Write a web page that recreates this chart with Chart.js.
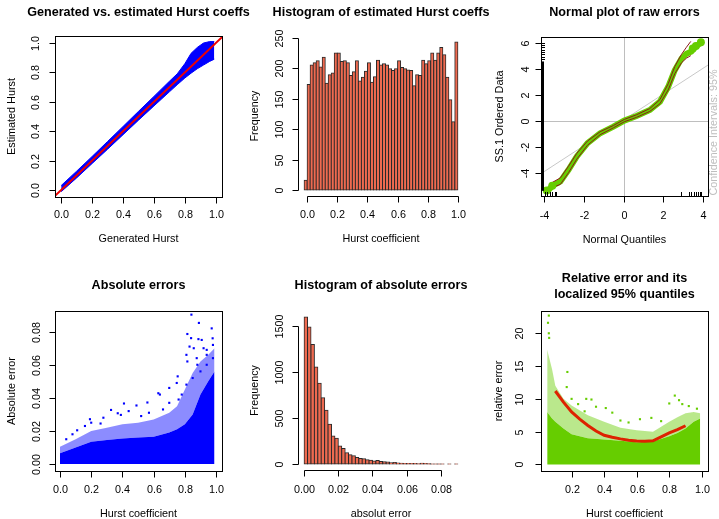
<!DOCTYPE html>
<html>
<head>
<meta charset="utf-8">
<script src="https://cdn.jsdelivr.net/npm/chart.js@4.4.0/dist/chart.umd.min.js"></script>
<style>
    body { margin: 0; background: #fff; }
    #wrap { position: relative; width: 719px; height: 519px; }
    #wrap canvas { position: absolute; left: 0; top: 0; }
</style>
</head>
<body>
<div id="wrap">
    <canvas id="c1" width="719" height="519"></canvas>
    <canvas id="c2" width="719" height="519"></canvas>
    <canvas id="c3" width="719" height="519"></canvas>
    <canvas id="c4" width="719" height="519"></canvas>
    <canvas id="c5" width="719" height="519"></canvas>
    <canvas id="c6" width="719" height="519"></canvas>
</div>
<script>
// ---- panel 1: generated vs estimated (cloud shown as its envelope)
var hGen = [0, 0.1, 0.2, 0.3, 0.4, 0.5, 0.6, 0.7, 0.75, 0.8, 0.84, 0.88, 0.92, 0.96, 0.99];
var estHigh = [0.03, 0.128, 0.228, 0.33, 0.432, 0.535, 0.637, 0.74, 0.79, 0.86, 0.93, 0.97, 1.0, 1.01, 1.01];
var estLow = [-0.012, 0.082, 0.18, 0.277, 0.376, 0.475, 0.572, 0.668, 0.716, 0.762, 0.795, 0.825, 0.85, 0.875, 0.89];
var diagX = [-0.1, 1.1];
var diagY = [-0.1, 1.1];

// ---- panel 2: histogram of estimated Hurst coeffs
var hurstMids = [-0.01, 0.01, 0.03, 0.05, 0.07, 0.09, 0.11, 0.13, 0.15, 0.17, 0.19, 0.21, 0.23, 0.25, 0.27, 0.29, 0.31,
    0.33, 0.35, 0.37, 0.39, 0.41, 0.43, 0.45, 0.47, 0.49, 0.51, 0.53, 0.55, 0.57, 0.59, 0.61, 0.63, 0.65, 0.67, 0.69,
    0.71, 0.73, 0.75, 0.77, 0.79, 0.81, 0.83, 0.85, 0.87, 0.89, 0.91, 0.93, 0.95, 0.97, 0.99];
var hurstCounts = [16, 173, 205, 209, 212, 202, 218, 175, 189, 192, 225, 225, 211, 212, 209, 188, 194, 212, 179, 185,
    195, 209, 177, 186, 213, 205, 207, 205, 199, 196, 199, 212, 201, 199, 197, 196, 171, 189, 188, 213, 207, 212,
    225, 213, 225, 234, 222, 185, 148, 112, 243];

// ---- panel 3: normal plot of raw errors
var qqX = [-3.81, -3.58, -3.19, -2.78, -2.36, -1.82, -1.18, -0.51, 0.04, 0.66, 1.33, 1.84, 2.26, 2.59, 2.93, 3.18, 3.43, 3.65, 3.92];
var qqY = [-5.36, -5.0, -4.67, -3.77, -2.74, -1.72, -0.95, -0.44, 0.03, 0.38, 0.85, 1.49, 2.64, 3.92, 4.82, 5.2, 5.37, 5.77, 6.03];
var ciX = [-3.6, -3.19, -2.78, -2.36, -1.82, -1.18, -0.51, 0.04, 0.66, 1.33, 1.84, 2.26, 2.59, 2.93, 3.18, 3.4];
var ciUp = [-4.75, -4.4, -3.5, -2.5, -1.55, -0.83, -0.35, 0.12, 0.48, 0.96, 1.65, 2.88, 4.2, 5.15, 5.7, 6.15];
var ciLo = [-5.15, -4.9, -4.0, -2.95, -1.88, -1.06, -0.53, -0.06, 0.28, 0.74, 1.33, 2.4, 3.65, 4.5, 4.85, 5.05];
var qqTailX = [-3.88, -3.6, 3.5, 3.66, 3.91];
var qqTailY = [-5.38, -5.0, 5.6, 5.8, 6.08];
var qqRefX = [-4.4, 4.4];
var qqRefY = [-4.3, 4.45];
var qqRugSpan = [-5.4, 4.6];
var qqRugY = [4.8, 4.95, 5.2, 5.35, 5.5, 5.7, 5.85, 6.05];
var qqRugX = [-3.95, -3.85, -3.7, -3.6, -3.45, -3.4, 2.9, 3.3, 3.4, 3.55, 3.65, 3.75, 3.85, 3.93];

// ---- panel 4: absolute errors (dense core, looser fringe, single outliers)
var absX = [0, 0.1, 0.2, 0.3, 0.4, 0.5, 0.6, 0.7, 0.75, 0.8, 0.85, 0.9, 0.95, 0.99];
var absCore = [0.0065, 0.01, 0.0135, 0.0145, 0.0155, 0.016, 0.0165, 0.019, 0.021, 0.024, 0.03, 0.042, 0.05, 0.056];
var absOuter = [0.0105, 0.015, 0.02, 0.022, 0.024, 0.025, 0.027, 0.031, 0.035, 0.045, 0.055, 0.062, 0.066, 0.07];
var absOutX = [0.842, 0.89, 0.816, 0.84, 0.887, 0.908, 0.972, 0.978, 0.83, 0.857, 0.81, 0.92, 0.94, 0.98, 0.816,
    0.876, 0.94, 0.754, 0.748, 0.63, 0.64, 0.70, 0.56, 0.41, 0.49, 0.327, 0.37, 0.39, 0.44, 0.278, 0.192, 0.20,
    0.16, 0.11, 0.08, 0.04, 0.26, 0.52, 0.57, 0.66, 0.70, 0.76, 0.81, 0.85, 0.90, 0.94, 0.98, 0.78, 0.88];
var absOutY = [0.0903, 0.0853, 0.0786, 0.0761, 0.0755, 0.075, 0.082, 0.076, 0.071, 0.070, 0.066, 0.070, 0.069,
    0.072, 0.062, 0.064, 0.066, 0.053, 0.049, 0.0428, 0.042, 0.046, 0.0372, 0.0366, 0.0354, 0.0327, 0.0307, 0.0297,
    0.032, 0.028, 0.0271, 0.025, 0.023, 0.0204, 0.018, 0.015, 0.0245, 0.029, 0.031, 0.033, 0.037, 0.039, 0.048,
    0.052, 0.056, 0.060, 0.064, 0.042, 0.060];

// ---- panel 5: histogram of absolute errors
var absMids = [0.001, 0.003, 0.005, 0.007, 0.009, 0.011, 0.013, 0.015, 0.017, 0.019, 0.021, 0.023, 0.025, 0.027,
    0.029, 0.031, 0.033, 0.035, 0.037, 0.039, 0.041, 0.043, 0.045, 0.047, 0.049, 0.051, 0.053, 0.055, 0.057, 0.059,
    0.061, 0.063, 0.065, 0.067, 0.069, 0.071, 0.073, 0.075, 0.077, 0.079, 0.081, 0.083, 0.085, 0.087, 0.089];
var absCounts = [1600, 1490, 1300, 1055, 880, 720, 585, 432, 305, 280, 197, 170, 123, 101, 90, 72, 62, 58, 47, 43,
    33, 40, 29, 25, 22, 14, 18, 11, 10, 8, 8, 7, 6, 5, 9, 8, 3, 2, 1, 1, 1, 0, 1, 0, 1];

// ---- panel 6: relative error and its localized 95% quantiles
var relX = [0.05, 0.08, 0.1, 0.15, 0.2, 0.3, 0.4, 0.5, 0.6, 0.7, 0.8, 0.85, 0.9, 0.95, 0.99];
var relCore = [8.0, 7.0, 6.5, 5.5, 4.6, 4.0, 3.8, 3.6, 3.4, 3.5, 4.3, 4.8, 5.5, 6.5, 7.0];
var relOuter = [17.5, 14.5, 12.0, 10.0, 9.0, 7.5, 6.5, 5.6, 5.2, 5.0, 6.5, 7.2, 7.8, 8.0, 7.8];
var relOutX = [0.055, 0.06, 0.06, 0.062, 0.174, 0.834, 0.322, 0.29, 0.41, 0.8, 0.88, 0.97, 0.28, 0.2, 0.45, 0.5,
    0.69, 0.75, 0.62, 0.35, 0.55, 0.92, 0.86, 0.24, 0.17];
var relOutY = [21.6, 22.7, 20.0, 19.3, 14.1, 10.5, 9.9, 10.0, 8.6, 9.3, 9.2, 8.5, 8.1, 10.0, 7.9, 6.7, 7.1, 6.6,
    6.9, 8.8, 6.4, 8.9, 9.8, 9.2, 11.8];
var q95X = [0.1, 0.15, 0.2, 0.25, 0.3, 0.35, 0.4, 0.45, 0.5, 0.55, 0.6, 0.65, 0.7, 0.75, 0.8, 0.85, 0.9];
var q95Y = [11.2, 9.5, 8.0, 6.9, 5.95, 5.1, 4.45, 4.15, 3.9, 3.7, 3.58, 3.55, 3.6, 4.2, 4.8, 5.3, 5.9];

// tick values
var unitTicks = [0, 0.2, 0.4, 0.6, 0.8, 1.0];
var freqTicks = [0, 50, 100, 150, 200, 250];
var qqXTicks = [-4, -2, 0, 2, 4];
var qqYTicks = [-4, -2, 0, 2, 4, 6];
var absTicks = [0, 0.02, 0.04, 0.06, 0.08];
var absFreqTicks = [0, 500, 1000, 1500];
var relXTicks = [0.2, 0.4, 0.6, 0.8, 1.0];
var relYTicks = [0, 5, 10, 15, 20];

var FONT = "'Liberation Sans', Arial, sans-serif";

function pts(xs, ys) {
    return xs.map(function (x, i) { return { x: x, y: ys[i] }; });
}

function vText(ctx, s, x, y) {
    ctx.save();
    ctx.translate(x, y);
    ctx.rotate(-Math.PI / 2);
    ctx.textAlign = 'center';
    ctx.textBaseline = 'middle';
    ctx.fillText(s, 0, 0);
    ctx.restore();
}

// base-graphics look: box, detached axes, rotated y labels, titles
var rBase = {
    id: 'rbase',
    beforeDatasetsDraw: function (chart, args, o) {
        var ctx = chart.ctx, a = chart.chartArea, xs = chart.scales.x, ys = chart.scales.y;
        ctx.save();
        ctx.strokeStyle = '#bebebe';
        ctx.lineWidth = 1;
        ctx.beginPath();
        (o.vLines || []).forEach(function (v) {
            var px = Math.round(xs.getPixelForValue(v)) + 0.5;
            ctx.moveTo(px, a.top); ctx.lineTo(px, a.bottom);
        });
        (o.hLines || []).forEach(function (v) {
            var py = Math.round(ys.getPixelForValue(v)) + 0.5;
            ctx.moveTo(a.left, py); ctx.lineTo(a.right, py);
        });
        ctx.stroke();
        ctx.restore();
    },
    afterDraw: function (chart, args, o) {
        var ctx = chart.ctx, a = chart.chartArea, xs = chart.scales.x, ys = chart.scales.y;
        ctx.save();
        ctx.strokeStyle = '#000';
        ctx.fillStyle = '#000';
        ctx.lineWidth = 1;

        // rug marks
        if (o.rugSpan) {
            var t = ys.getPixelForValue(o.rugSpan[1]), b = ys.getPixelForValue(o.rugSpan[0]);
            ctx.fillRect(a.left, t, 3, b - t);
            ctx.beginPath();
            o.rugY.forEach(function (v) {
                var py = Math.round(ys.getPixelForValue(v)) + 0.5;
                ctx.moveTo(a.left, py); ctx.lineTo(a.left + 4, py);
            });
            o.rugX.forEach(function (v) {
                var px = Math.round(xs.getPixelForValue(v)) + 0.5;
                ctx.moveTo(px, a.bottom); ctx.lineTo(px, a.bottom - 4);
            });
            ctx.stroke();
        }

        if (o.box) {
            ctx.strokeRect(a.left + 0.5, a.top + 0.5, a.right - a.left, a.bottom - a.top);
        }

        // x axis
        var by = a.bottom + 0.5;
        var xp = o.xTicks.map(function (v) { return Math.round(xs.getPixelForValue(v)) + 0.5; });
        ctx.beginPath();
        ctx.moveTo(xp[0], by); ctx.lineTo(xp[xp.length - 1], by);
        xp.forEach(function (px) { ctx.moveTo(px, by); ctx.lineTo(px, by + 6); });
        // y axis
        var lx = a.left + 0.5;
        var yp = o.yTicks.map(function (v) { return Math.round(ys.getPixelForValue(v)) + 0.5; });
        ctx.moveTo(lx, yp[0]); ctx.lineTo(lx, yp[yp.length - 1]);
        yp.forEach(function (py) { ctx.moveTo(lx, py); ctx.lineTo(lx - 6, py); });
        ctx.stroke();

        ctx.font = '10.8px ' + FONT;
        ctx.textAlign = 'center';
        ctx.textBaseline = 'middle';
        o.xTicks.forEach(function (v, i) { ctx.fillText(v.toFixed(o.xDec), xp[i], o.xTickY); });
        o.yTicks.forEach(function (v, i) { vText(ctx, v.toFixed(o.yDec), o.yTickX, yp[i]); });

        var cx = (a.left + a.right) / 2;
        ctx.fillText(o.xTitle, cx, o.xTitleY);
        vText(ctx, o.yTitle, o.yTitleX, (a.top + a.bottom) / 2);

        if (o.side) {
            ctx.fillStyle = '#bebebe';
            vText(ctx, o.side.text, o.side.x, o.side.y);
            ctx.fillStyle = '#000';
        }

        ctx.font = 'bold 12.6px ' + FONT;
        o.title.forEach(function (s, i) { ctx.fillText(s, cx, o.titleY[i]); });
        ctx.restore();
    }
};

function makeChart(id, type, datasets, box, xr, yr, rb) {
    return new Chart(document.getElementById(id), {
        type: type,
        data: { datasets: datasets },
        options: {
            responsive: false,
            animation: false,
            events: [],
            layout: { padding: { left: box[0], top: box[1], right: 719 - box[2], bottom: 519 - box[3] } },
            scales: {
                x: { type: 'linear', display: false, min: xr[0], max: xr[1], offset: false },
                y: { type: 'linear', display: false, min: yr[0], max: yr[1] }
            },
            elements: { point: { radius: 0 }, line: { tension: 0 } },
            plugins: { legend: { display: false }, tooltip: { enabled: false }, rbase: rb }
        },
        plugins: [rBase]
    });
}

function histSet(xs, ys) {
    return {
        data: pts(xs, ys), backgroundColor: '#ee6a50', borderColor: '#2a2a2a', borderWidth: 1,
        borderSkipped: false, inflateAmount: 0.5, barPercentage: 1, categoryPercentage: 1
    };
}

// panel 1
makeChart('c1', 'line', [
    { data: pts(diagX, diagY), borderColor: '#ee0000', borderWidth: 2, clip: 0 },
    { data: pts(hGen, estHigh), borderColor: '#0000ff', borderWidth: 1, backgroundColor: '#0000ff', fill: '+1' },
    { data: pts(hGen, estLow), borderColor: '#0000ff', borderWidth: 1 }
], [55, 36, 222, 197], [-0.04, 1.04], [-0.048, 1.048], {
    box: true, title: ['Generated vs. estimated Hurst coeffs'], titleY: [12.5],
    xTicks: unitTicks, xDec: 1, yTicks: unitTicks, yDec: 1, xTickY: 215, yTickX: 36,
    xTitle: 'Generated Hurst', xTitleY: 239.5, yTitle: 'Estimated Hurst', yTitleX: 12
});

// panel 2
makeChart('c2', 'bar', [histSet(hurstMids, hurstCounts)],
    [298, 36, 464, 196], [-0.0608, 1.0408], [-9.72, 252.7], {
    box: false, title: ['Histogram of estimated Hurst coeffs'], titleY: [12.5],
    xTicks: unitTicks, xDec: 1, yTicks: freqTicks, yDec: 0, xTickY: 215.5, yTickX: 280,
    xTitle: 'Hurst coefficient', xTitleY: 239.5, yTitle: 'Frequency', yTitleX: 255
});

// panel 3
makeChart('c3', 'line', [
    { data: pts(qqTailX, qqTailY), showLine: false, pointRadius: 4, pointBackgroundColor: '#66cd00', pointBorderWidth: 0 },
    { data: pts(ciX, ciUp), borderColor: '#8b1a1a', borderWidth: 1 },
    { data: pts(ciX, ciLo), borderColor: '#8b1a1a', borderWidth: 1 },
    { data: pts(qqX, qqY), borderColor: '#66cd00', borderWidth: 6, borderCapStyle: 'round' },
    { data: pts(qqRefX, qqRefY), borderColor: '#c8c8c8', borderWidth: 1, clip: 0 }
], [541, 37, 708, 196], [-4.17, 4.27], [-5.8, 6.49], {
    box: true, title: ['Normal plot of raw errors'], titleY: [12.5],
    xTicks: qqXTicks, xDec: 0, yTicks: qqYTicks, yDec: 0, xTickY: 216.5, yTickX: 526.5,
    xTitle: 'Normal Quantiles', xTitleY: 240, yTitle: 'SS.1 Ordered Data', yTitleX: 500,
    vLines: [0], hLines: [0], rugSpan: qqRugSpan, rugY: qqRugY, rugX: qqRugX,
    side: { text: 'Confidence Intervals: 95%', x: 714.5, y: 132.5 }
});

// panel 4
makeChart('c4', 'line', [
    { data: pts(absOutX, absOutY), showLine: false, pointRadius: 1.5, pointStyle: 'rect',
      pointBackgroundColor: '#0000ff', pointBorderWidth: 0 },
    { data: pts(absX, absOuter), borderWidth: 0, backgroundColor: 'rgba(0,0,255,0.45)', fill: '+1' },
    { data: pts(absX, absCore), borderWidth: 0, backgroundColor: '#0000ff', fill: 'origin' }
], [55, 311, 222, 471], [-0.032, 1.038], [-0.0042, 0.0925], {
    box: true, title: ['Absolute errors'], titleY: [286],
    xTicks: unitTicks, xDec: 1, yTicks: absTicks, yDec: 2, xTickY: 490, yTickX: 37.5,
    xTitle: 'Hurst coefficient', xTitleY: 514, yTitle: 'Absolute error', yTitleX: 12.5
});

// panel 5
makeChart('c5', 'bar', [histSet(absMids, absCounts)],
    [298, 311, 464, 470], [-0.0036, 0.0936], [-64, 1664], {
    box: false, title: ['Histogram of absolute errors'], titleY: [286],
    xTicks: absTicks, xDec: 2, yTicks: absFreqTicks, yDec: 0, xTickY: 490, yTickX: 280,
    xTitle: 'absolut error', xTitleY: 514.5, yTitle: 'Frequency', yTitleX: 255.5
});

// panel 6
makeChart('c6', 'line', [
    { data: pts(q95X, q95Y), borderColor: '#dd2200', borderWidth: 3 },
    { data: pts(relOutX, relOutY), showLine: false, pointRadius: 1.5, pointStyle: 'rect',
      pointBackgroundColor: '#66cd00', pointBorderWidth: 0 },
    { data: pts(relX, relOuter), borderWidth: 0, backgroundColor: 'rgba(102,205,0,0.45)', fill: '+1' },
    { data: pts(relX, relCore), borderWidth: 0, backgroundColor: '#66cd00', fill: 'origin' }
], [541, 311, 708, 471], [0.012, 1.038], [-1.0, 23.4], {
    box: true, title: ['Relative error and its', 'localized 95% quantiles'], titleY: [279, 294.5],
    xTicks: relXTicks, xDec: 1, yTicks: relYTicks, yDec: 0, xTickY: 490, yTickX: 520,
    xTitle: 'Hurst coefficient', xTitleY: 514, yTitle: 'relative error', yTitleX: 499
});
</script>
</body>
</html>
